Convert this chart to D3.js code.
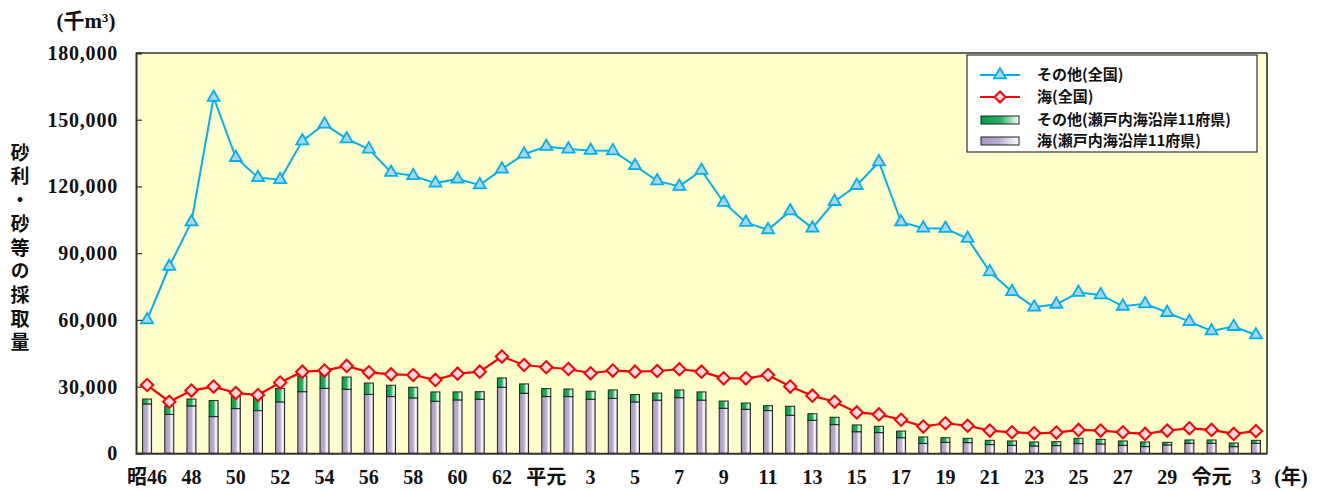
<!DOCTYPE html>
<html>
<head>
<meta charset="utf-8">
<script src="https://cdn.jsdelivr.net/npm/d3@7"></script>
<style>
  html, body { margin: 0; padding: 0; background: #fff; }
  svg { display: block; }
</style>
</head>
<body>
<svg id="chart" width="1319" height="492"></svg>
<script>
// ---- data ----
const years = d3.range(1971, 2022);
const tickLabels = ["昭46","48","50","52","54","56","58","60","62","平元","3","5","7","9","11","13","15","17","19","21","23","25","27","29","令元","3"];
const yTicks = [0, 30000, 60000, 90000, 120000, 150000, 180000];

const otherNational = [60000,84000,104000,160000,133000,124000,123000,140500,148000,141400,
  136800,126300,124800,121500,123300,120700,127800,134500,138000,136800,
  136200,136000,129300,122500,120000,127200,112800,103800,100500,109000,
  101250,113200,120400,131000,104000,101250,101100,96600,81600,72700,
  65700,67000,72300,71200,66100,67200,63300,59200,55000,57000,53200];

const seaNational = [30700,23200,28200,30000,27100,26200,31800,36700,37200,39300,
  36400,35500,35200,33000,35800,36700,43500,39700,38700,37900,
  36000,37200,36700,37000,37800,36700,33700,33700,35200,30000,
  25900,23200,18400,17500,15100,12000,13500,12400,10200,9450,
  9000,9300,10500,10200,9450,8700,10200,11250,10500,8700,10000];

const seaSeto = [22200,17500,21300,16500,20100,19200,23100,27700,29200,28800,
  26500,25500,24900,23400,24000,24300,29700,27000,25500,25500,
  24300,24700,23100,23900,25000,23900,20250,19800,19200,17100,
  14850,12900,9700,9300,7000,4400,4950,4800,3900,3600,
  3300,3450,4350,4200,3600,3000,3750,4500,4500,3000,4500];

const otherSeto = [2200,3800,3100,7200,5400,5500,6100,7100,6800,5500,
  5100,5100,4800,4200,3600,3400,4200,4200,3600,3400,
  3600,3800,3300,3200,3500,3700,3250,2800,2200,4050,
  2950,3300,3050,2850,3000,2950,2050,1950,1950,1950,
  1800,1800,2400,2100,1950,2100,1200,1500,1500,1650,1350];

const legendLabels = ["その他(全国)", "海(全国)", "その他(瀬戸内海沿岸11府県)", "海(瀬戸内海沿岸11府県)"];

// ---- layout ----
const svg = d3.select("#chart");
const L = 136, R = 1267, T = 53, B = 453.3;
const numFont = "'Liberation Serif', 'Noto Sans CJK JP', serif";
const jpFont = "'Noto Sans CJK JP', sans-serif";

const pi = 1 - 9 / ((R - L) / years.length);
const x = d3.scaleBand().domain(years).range([L, R]).paddingInner(pi).paddingOuter(pi / 2);
const cx = d => x(d) + x.bandwidth() / 2;
const y = d3.scaleLinear().domain([0, 180000]).range([B, T]);

// gradients
const defs = svg.append("defs");
function grad(id, stops) {
  const g = defs.append("linearGradient").attr("id", id).attr("x1", 0).attr("x2", 1).attr("y1", 0).attr("y2", 0);
  stops.forEach(s => g.append("stop").attr("offset", s[0]).attr("stop-color", s[1]));
}
grad("gPurple", [[0, "#A797C2"], [0.5, "#BBAED3"], [0.78, "#FFFFFF"], [1, "#B2A3CC"]]);
grad("gGreen", [[0, "#00A04A"], [0.5, "#22B35E"], [0.8, "#FFFFFF"], [1, "#3DBF72"]]);
grad("gPurpleL", [[0, "#A797C2"], [0.45, "#B8AAD0"], [1, "#FFFFFF"]]);
grad("gGreenL", [[0, "#00A04A"], [0.5, "#1DB25A"], [1, "#FFFFFF"]]);

// plot background
svg.append("rect").attr("x", L).attr("y", T).attr("width", R - L).attr("height", B - T).attr("fill", "#FFFFCC");

// bars
const bars = svg.append("g");
years.forEach((yr, i) => {
  const p = seaSeto[i], g = otherSeto[i];
  bars.append("rect").attr("x", x(yr)).attr("width", x.bandwidth())
    .attr("y", y(p)).attr("height", y(0) - y(p))
    .attr("fill", "url(#gPurple)").attr("stroke", "#222").attr("stroke-width", 1);
  bars.append("rect").attr("x", x(yr)).attr("width", x.bandwidth())
    .attr("y", y(p + g)).attr("height", y(p) - y(p + g))
    .attr("fill", "url(#gGreen)").attr("stroke", "#222").attr("stroke-width", 1);
});

// lines
const line = arr => d3.line().x((d, i) => cx(years[i])).y(d => y(d))(arr);
svg.append("path").attr("d", line(seaNational)).attr("fill", "none").attr("stroke", "#FF0000").attr("stroke-width", 2.2);
svg.append("g").selectAll("path").data(seaNational).join("path")
  .attr("d", d3.symbol(d3.symbolSquare, 76)())
  .attr("transform", (d, i) => `translate(${cx(years[i])},${y(d)}) rotate(45)`)
  .attr("fill", "#F2DCE2").attr("stroke", "#FF0000").attr("stroke-width", 2);

svg.append("path").attr("d", line(otherNational)).attr("fill", "none").attr("stroke", "#00B0F0").attr("stroke-width", 2);
svg.append("g").selectAll("path").data(otherNational).join("path")
  .attr("d", d3.symbol(d3.symbolTriangle, 62)())
  .attr("transform", (d, i) => `translate(${cx(years[i])},${y(d)})`)
  .attr("fill", "#A9D6EC").attr("stroke", "#00B0F0").attr("stroke-width", 1.8);

// frame
svg.append("line").attr("x1", L).attr("x2", R).attr("y1", T).attr("y2", T).attr("stroke", "#666").attr("stroke-width", 2);
svg.append("line").attr("x1", R).attr("x2", R).attr("y1", T).attr("y2", B).attr("stroke", "#222").attr("stroke-width", 1.5);

// y axis
const yAxis = svg.append("g").attr("transform", `translate(${L},0)`)
  .call(d3.axisRight(y).tickValues(yTicks).tickSize(6).tickFormat(""));
yAxis.select(".domain").attr("stroke", "#333").attr("stroke-width", 2);
yAxis.selectAll(".tick line").attr("stroke", "#333").attr("stroke-width", 1.2);
svg.append("g").selectAll("text").data(yTicks).join("text")
  .attr("x", 118).attr("y", d => y(d)).attr("dy", "0.35em")
  .attr("text-anchor", "end").attr("font-family", numFont).attr("font-weight", "bold")
  .attr("font-size", 20).attr("letter-spacing", 0.8).attr("fill", "#111")
  .text(d => d3.format(",")(d));

// x axis
const xAxis = svg.append("g").attr("transform", `translate(0,${B})`)
  .call(d3.axisBottom(x).tickSize(0).tickFormat(""));
xAxis.select(".domain").attr("stroke", "#333").attr("stroke-width", 2);
svg.append("g").selectAll("text").data(tickLabels).join("text")
  .attr("x", (d, i) => cx(years[i * 2])).attr("y", 477).attr("dy", "0.35em")
  .attr("text-anchor", "middle").attr("font-family", numFont).attr("font-weight", "bold")
  .attr("font-size", 20).attr("fill", "#111").text(d => d);
svg.append("text").attr("x", 1291).attr("y", 477).attr("dy", "0.35em").attr("text-anchor", "middle")
  .attr("font-family", numFont).attr("font-weight", "bold").attr("font-size", 20).attr("fill", "#111").text("(年)");

// unit label
svg.append("text").attr("x", 86).attr("y", 21).attr("dy", "0.35em").attr("text-anchor", "middle")
  .attr("font-family", numFont).attr("font-weight", "bold").attr("font-size", 21).attr("fill", "#111")
  .text("(千m³)");

// y title vertical (single text element, vertical writing)
svg.append("text")
  .attr("x", 20).attr("y", 143)
  .attr("font-family", jpFont).attr("font-weight", "bold").attr("font-size", 19).attr("fill", "#111")
  .attr("letter-spacing", 4.7)
  .style("writing-mode", "vertical-rl").style("text-orientation", "upright")
  .text("砂利・砂等の採取量");

// legend
const lg = svg.append("g");
lg.append("rect").attr("x", 967).attr("y", 55).attr("width", 290).attr("height", 97)
  .attr("fill", "#fff").attr("stroke", "#333").attr("stroke-width", 1.2);
const rowsY = [75, 97, 120, 141];
lg.append("line").attr("x1", 980).attr("x2", 1020).attr("y1", rowsY[0]).attr("y2", rowsY[0]).attr("stroke", "#00B0F0").attr("stroke-width", 2);
lg.append("path").attr("d", d3.symbol(d3.symbolTriangle, 62)()).attr("transform", `translate(1000,${rowsY[0]})`)
  .attr("fill", "#A9D6EC").attr("stroke", "#00B0F0").attr("stroke-width", 1.8);
lg.append("line").attr("x1", 980).attr("x2", 1020).attr("y1", rowsY[1]).attr("y2", rowsY[1]).attr("stroke", "#FF0000").attr("stroke-width", 2.2);
lg.append("path").attr("d", d3.symbol(d3.symbolSquare, 60)()).attr("transform", `translate(1000,${rowsY[1]}) rotate(45)`)
  .attr("fill", "#F2DCE2").attr("stroke", "#FF0000").attr("stroke-width", 2);
lg.append("rect").attr("x", 981).attr("y", rowsY[2] - 4).attr("width", 38).attr("height", 8)
  .attr("fill", "url(#gGreenL)").attr("stroke", "#222").attr("stroke-width", 1);
lg.append("rect").attr("x", 981).attr("y", rowsY[3] - 4).attr("width", 38).attr("height", 8)
  .attr("fill", "url(#gPurpleL)").attr("stroke", "#222").attr("stroke-width", 1);
lg.selectAll("text.lt").data(legendLabels).join("text").attr("class", "lt")
  .attr("x", 1037).attr("y", (d, i) => rowsY[i]).attr("dy", "0.35em")
  .attr("font-family", jpFont).attr("font-weight", "bold").attr("font-size", 15).attr("fill", "#111")
  .text(d => d);
</script>
</body>
</html>
